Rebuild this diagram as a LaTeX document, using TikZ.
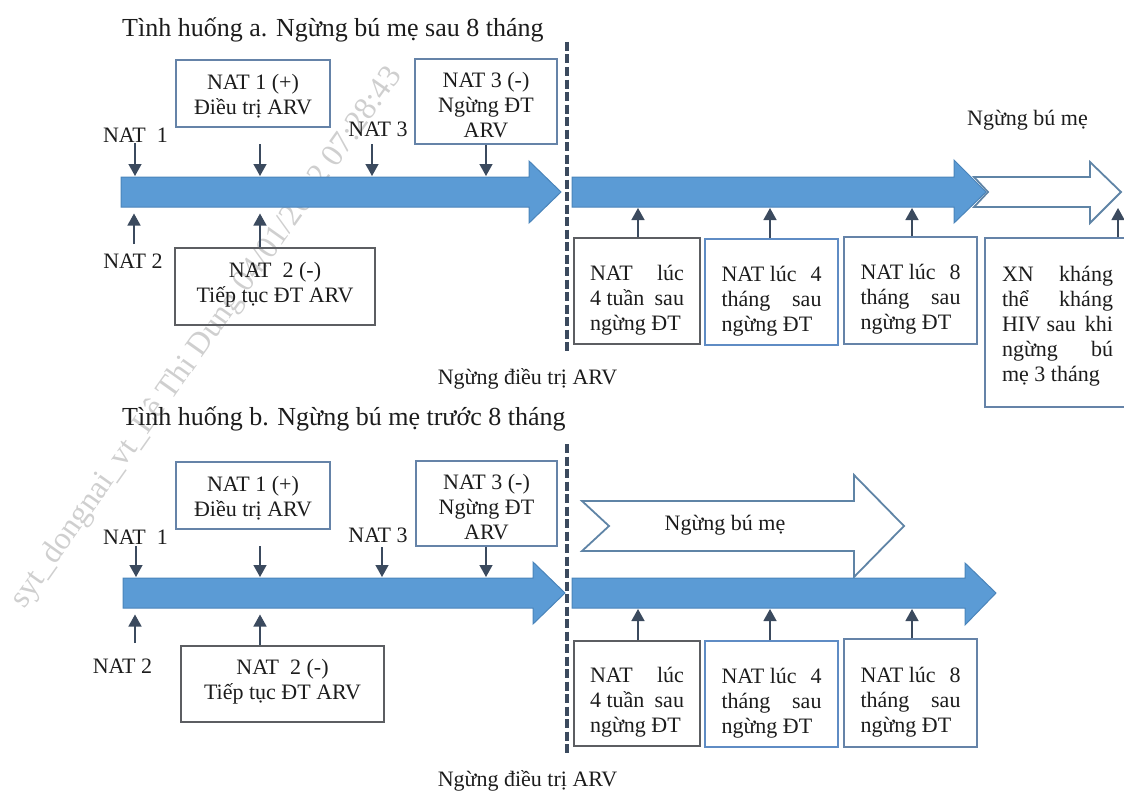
\documentclass[tikz,border=0pt]{standalone}
\usepackage{fontspec}
\setmainfont{Liberation Serif}
\usetikzlibrary{arrows.meta,calc}
\definecolor{barfill}{HTML}{5B9BD5}
\definecolor{barline}{HTML}{4A84BA}
\definecolor{hollow}{HTML}{5F84A6}
\definecolor{slate}{HTML}{3B4A5E}
\definecolor{boxblue}{HTML}{6583A8}
\definecolor{boxbright}{HTML}{5F8CC4}
\definecolor{boxgrey}{HTML}{5C5E62}
\definecolor{ink}{HTML}{1C1C1C}
\definecolor{wm}{HTML}{CFCFCF}
\tikzset{
  x=1pt,y=-1pt,
  base/.style={font=\fontsize{22}{25}\selectfont,text=ink,inner sep=0pt},
  lab/.style={base},
  titlelab/.style={base,font=\fontsize{26}{30}\selectfont,anchor=west},
  framebox/.style={base,draw=#1,line width=1.5pt,rectangle},
  bar/.style={fill=barfill,draw=barline,line width=1pt,line join=miter},
  hollowbar/.style={fill=white,draw=hollow,line width=1.8pt,line join=miter},
  tick/.style={draw=slate,line width=1.4pt,-{Triangle[length=12pt,width=13pt]},shorten >=1pt},
  gaptick/.style={tick,shorten >=6.5pt},
  divider/.style={draw=slate,line width=3.6pt,dash pattern=on 9pt off 3.5pt},
}
% box from corners, with its text moved down by #6 from the box centre
\newcommand{\framed}[7]{%
  \node[framebox=#1,minimum width=#4-#2,minimum height=#5-#3] at ({(#2+#4)/2},{(#3+#5)/2}) (#7) {\raisebox{\dimexpr-7.5pt-#6pt\relax}[0pt][0pt]{\begin{tabular}{@{}c@{}}\boxlines\end{tabular}}};}
\newcommand{\jl}[3]{\hbox to #1pt{#2\hfill #3}}
\begin{document}
\begin{tikzpicture}
\useasboundingbox (0,0) rectangle (1124,792);
\clip (0,0) rectangle (1124,792);

% ---------- watermark
\node[base,text=wm,font=\fontsize{32}{36}\selectfont,rotate=54.7] (wmark) at (207,338) {syt\_dongnai\_vt\_Lê Thi Dung 04/01/2022 07:28:43};

% ---------- situation a
\node[titlelab] (ta) at (122,30) {Tình huống a. Ngừng bú mẹ sau 8 tháng};
\draw[hollowbar] (974,177) -- (1090,177) -- (1090,162) -- (1121,192) -- (1090,223) -- (1090,207) -- (974,207) -- (988,192) -- cycle;
\draw[bar] (121,177) -- (529,177) -- (529,161) -- (561,192) -- (529,223) -- (529,207) -- (121,207) -- cycle;
\draw[bar] (572,177) -- (954,177) -- (954,160) -- (986,192) -- (954,223) -- (954,207) -- (572,207) -- cycle;
\coordinate (atop) at (121,177);
\coordinate (abot) at (121,207);
\coordinate (dA1) at (567,42);
\coordinate (dA2) at (567,352);
\draw[divider] (dA1) -- (dA2);

\def\boxlines{NAT 1 (+)\\Điều trị ARV}
\framed{boxblue}{176}{60}{330}{127}{1}{a1}
\def\boxlines{NAT 3 (-)\\Ngừng ĐT\\ARV}
\framed{boxblue}{415}{59}{557}{144}{4}{a3}
\def\boxlines{NAT\ \ 2 (-)\\Tiếp tục ĐT ARV}
\framed{boxgrey}{175}{248}{375}{325}{-4}{a2}
\def\boxlines{\jl{94}{NAT}{lúc}\\\jl{94}{4 tuần}{sau}\\\jl{94}{ngừng ĐT}{}}
\framed{boxgrey}{574}{238}{700}{344}{7}{ab1}
\def\boxlines{\jl{100}{NAT lúc}{4}\\\jl{100}{tháng}{sau}\\\jl{100}{ngừng ĐT}{}}
\framed{boxbright}{705}{239}{838}{345}{7}{ab2}
\def\boxlines{\jl{100}{NAT lúc}{8}\\\jl{100}{tháng}{sau}\\\jl{100}{ngừng ĐT}{}}
\framed{boxblue}{844}{237}{977}{344}{7}{ab3}
\def\boxlines{\jl{111}{XN}{kháng}\\\jl{111}{thể}{kháng}\\\jl{111}{HIV sau}{khi}\\\jl{111}{ngừng}{bú}\\\jl{111}{mẹ 3 tháng}{}}
\framed{boxblue}{985}{238}{1130}{407}{1.5}{ab4}

\node[lab] (an1) at (135.5,135) {NAT\ \ 1};
\node[lab] (an3) at (378,129) {NAT 3};
\node[lab] (an2) at (133,261) {NAT 2};
\node[lab] (astop) at (1027.5,120) {Ngừng bú mẹ};
\node[lab] (aarv) at (527.5,379) {Ngừng điều trị ARV};

\coordinate (at1) at (135,143);
\coordinate (at2) at (260,144);
\coordinate (at3) at (372,144);
\coordinate (ab1s) at (134,244);
\draw[tick] (at1) -- (at1 |- atop);
\draw[tick] (at2) -- (at2 |- atop);
\draw[tick] (at3) -- (at3 |- atop);
\draw[tick] (a3.south) -- (a3.south |- atop);
\draw[gaptick] (ab1s) -- (ab1s |- abot);
\draw[gaptick] ([xshift=-15pt]a2.north) -- ([xshift=-15pt]a2.north |- abot);
\draw[tick] ([xshift=1pt]ab1.north) -- ([xshift=1pt]ab1.north |- abot);
\draw[tick] ([xshift=-1.5pt]ab2.north) -- ([xshift=-1.5pt]ab2.north |- abot);
\draw[tick] ([xshift=1.5pt]ab3.north) -- ([xshift=1.5pt]ab3.north |- abot);
\draw[tick] ([xshift=60.5pt]ab4.north) -- ([xshift=60.5pt]ab4.north |- abot);

% ---------- situation b
\node[titlelab] (tb) at (122,419) {Tình huống b. Ngừng bú mẹ trước 8 tháng};
\draw[hollowbar] (582,501) -- (854,501) -- (854,475) -- (904,526) -- (854,577) -- (854,551) -- (582,551) -- (609,526) -- cycle;
\draw[bar] (123,578) -- (533,578) -- (533,562) -- (565,593) -- (533,624) -- (533,608) -- (123,608) -- cycle;
\draw[bar] (572,578) -- (965,578) -- (965,563) -- (996,593) -- (965,625) -- (965,608) -- (572,608) -- cycle;
\coordinate (btop) at (123,578);
\coordinate (bbot) at (123,608);
\coordinate (dB1) at (567,444);
\coordinate (dB2) at (567,755);
\draw[divider] (dB1) -- (dB2);

\def\boxlines{NAT 1 (+)\\Điều trị ARV}
\framed{boxblue}{176}{462}{330}{529}{1}{b1}
\def\boxlines{NAT 3 (-)\\Ngừng ĐT\\ARV}
\framed{boxblue}{416}{461}{557}{546}{4}{b3}
\def\boxlines{NAT\ \ 2 (-)\\Tiếp tục ĐT ARV}
\framed{boxgrey}{181}{646}{384}{722}{-4}{b2}
\def\boxlines{\jl{94}{NAT}{lúc}\\\jl{94}{4 tuần}{sau}\\\jl{94}{ngừng ĐT}{}}
\framed{boxgrey}{574}{641}{700}{746}{7}{bb1}
\def\boxlines{\jl{100}{NAT lúc}{4}\\\jl{100}{tháng}{sau}\\\jl{100}{ngừng ĐT}{}}
\framed{boxbright}{705}{641}{838}{747}{7}{bb2}
\def\boxlines{\jl{100}{NAT lúc}{8}\\\jl{100}{tháng}{sau}\\\jl{100}{ngừng ĐT}{}}
\framed{boxblue}{844}{639}{977}{747}{7}{bb3}

\node[lab] (bn1) at (135.5,537) {NAT\ \ 1};
\node[lab] (bn3) at (378,535) {NAT 3};
\node[lab] (bn2) at (122.5,666) {NAT 2};
\node[lab] (bstop) at (725,525) {Ngừng bú mẹ};
\node[lab] (barv) at (527.5,781) {Ngừng điều trị ARV};

\coordinate (bt1) at (136,546);
\coordinate (bt2) at (260,546);
\coordinate (bt3) at (382,547);
\coordinate (bb1s) at (135,643);
\draw[tick] (bt1) -- (bt1 |- btop);
\draw[tick] (bt2) -- (bt2 |- btop);
\draw[tick] (bt3) -- (bt3 |- btop);
\draw[tick] ([xshift=-0.5pt]b3.south) -- ([xshift=-0.5pt]b3.south |- btop);
\draw[gaptick] (bb1s) -- (bb1s |- bbot);
\draw[gaptick] ([xshift=-22.5pt]b2.north) -- ([xshift=-22.5pt]b2.north |- bbot);
\draw[tick] ([xshift=1pt]bb1.north) -- ([xshift=1pt]bb1.north |- bbot);
\draw[tick] ([xshift=-1.5pt]bb2.north) -- ([xshift=-1.5pt]bb2.north |- bbot);
\draw[tick] ([xshift=1.5pt]bb3.north) -- ([xshift=1.5pt]bb3.north |- bbot);
\end{tikzpicture}
\end{document}
